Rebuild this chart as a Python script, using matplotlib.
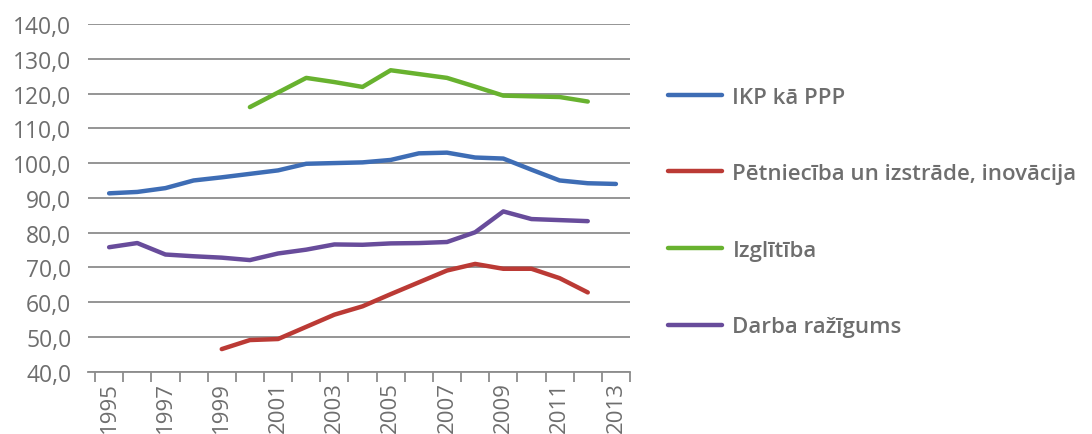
import matplotlib
matplotlib.use("Agg")
import matplotlib.pyplot as plt
import numpy as np
from matplotlib.lines import Line2D
from matplotlib.ticker import FuncFormatter

years = list(range(1995, 2014))

# index values per year, None where there is no figure
ikp_ppp = [91.3, 91.7, 92.8, 95.0, 95.9, 96.9, 97.9, 99.8, 100.0, 100.2,
           100.9, 102.8, 103.0, 101.6, 101.3, 98.1, 95.0, 94.2, 94.0]
petnieciba = [None, None, None, None, 46.5, 49.1, 49.4, 52.9, 56.4, 58.8,
              62.3, 65.7, 69.1, 71.0, 69.6, 69.6, 66.9, 62.8, None]
izglitiba = [None, None, None, None, None, 116.1, 120.3, 124.5, 123.3, 121.9,
             126.7, 125.6, 124.5, 122.0, 119.4, 119.2, 119.0, 117.7, None]
darba_razigums = [75.8, 77.0, 73.7, 73.2, 72.8, 72.1, 74.0, 75.1, 76.6, 76.5,
                  76.9, 77.0, 77.3, 80.1, 86.1, 83.9, 83.6, 83.3, None]

series_names = ["IKP kā PPP", "Pētniecība un izstrāde, inovācija",
                "Izglītība", "Darba ražīgums"]
series_values = [ikp_ppp, petnieciba, izglitiba, darba_razigums]
series_colors = ["#3e6db5", "#bb3a35", "#68b22f", "#684c9b"]

text_color = "#6e6e6e"
grid_color = "#8c8c8c"

plt.rcParams["font.family"] = ["Open Sans", "DejaVu Sans"]

fig = plt.figure(figsize=(10.92, 4.35), dpi=100)
ax = fig.add_axes([88 / 1092, 1 - 372.7 / 435, 542 / 1092, (372.7 - 25) / 435])

x = np.arange(len(years))
for values, color in zip(series_values, series_colors):
    y = np.array([np.nan if v is None else v for v in values], dtype=float)
    ax.plot(x, y, color=color, linewidth=3.2, solid_capstyle="round",
            solid_joinstyle="round", zorder=3)

ax.set_ylim(40, 140)
ax.set_yticks(np.arange(40, 141, 10))
ax.yaxis.set_major_formatter(FuncFormatter(lambda v, _: f"{v:.1f}".replace(".", ",")))
ax.set_xlim(-0.75, len(years) - 0.5)

# category boundaries get the tick marks, every second year gets a label
ax.set_xticks(np.arange(len(years) + 1) - 0.5)
ax.set_xticklabels([])
ax.set_xticks(x[::2], minor=True)
ax.set_xticklabels([str(yr) for yr in years[::2]], minor=True, rotation=90,
                   va="top", ha="center")

ax.grid(axis="y", color=grid_color, linewidth=1.3, zorder=1)
for side in ["top", "right", "left"]:
    ax.spines[side].set_visible(False)
ax.spines["bottom"].set_color(grid_color)
ax.spines["bottom"].set_linewidth(1.3)

ax.tick_params(axis="y", length=0, pad=12, labelsize=16.5, labelcolor=text_color)
ax.tick_params(axis="x", which="major", length=7, width=1.3, color=grid_color)
ax.tick_params(axis="x", which="minor", length=0, pad=7, labelsize=16,
               labelcolor=text_color)

handles = [Line2D([], [], color=c, linewidth=3.2, solid_capstyle="round")
           for c in series_colors]
fig.legend(handles, series_names, loc="center left",
           bbox_to_anchor=(648 / 1092, 1 - 213 / 435), frameon=False,
           handlelength=2.45, handletextpad=0.45, labelspacing=2.5,
           prop={"size": 16, "weight": "semibold"}, labelcolor=text_color)

fig.savefig("out.png", dpi=100)
